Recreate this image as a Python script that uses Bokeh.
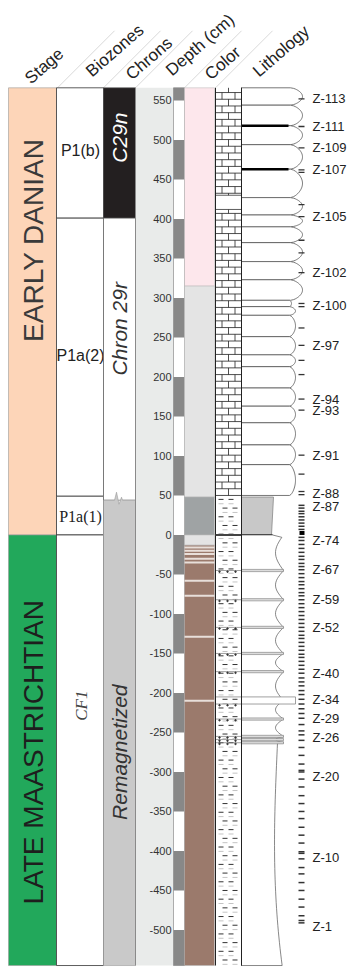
import numpy as np
from bokeh.plotting import figure
from bokeh.models import Range1d
from bokeh.embed import file_html
from bokeh.resources import INLINE
from bokeh.core.properties import value

# ---------------- data ----------------
stage_names = ["EARLY DANIAN", "LATE MAASTRICHTIAN"]
stage_top = [566, 0]
stage_base = [0, -545]
stage_label_y = [373, -275]
stage_colors = ["#fdd5b8", "#22a85b"]

biozone_names = ["P1(b)", "P1a(2)", "P1a(1)", "CF1"]
biozone_top = [566, 401, 49, 0]
biozone_base = [401, 49, 0, -545]
biozone_label_y = [487, 227, 23, -216]

chron_names = ["C29n", "Chron 29r", "Remagnetized"]
chron_top = [566, 401, 44]
chron_base = [401, 44, -545]
chron_label_y = [503, 261, -275]
chron_colors = ["#231f20", "#ffffff", "#c9c9c9"]

depth_ticks = [550, 500, 450, 400, 350, 300, 250, 200, 150, 100, 50, 0,
               -50, -100, -150, -200, -250, -300, -350, -400, -450, -500]
depth_bar_top = [566, 500, 400, 300, 200, 100, 0, -100, -200, -300, -400, -500]
depth_bar_base = [550, 450, 350, 250, 150, 50, -50, -150, -250, -350, -450, -545]

color_top = [566, 315, 48, 0, -13]
color_base = [315, 48, 0, -13, -545]
color_fill = ["#fde7ec", "#e4e4e4", "#9fa3a4", "#e4e4e4", "#9b7a6c"]
color_bands = [-16, -20, -24, -30, -35, -58, -77, -129, -210]

limestone_bounds = [566, 544, 518, 494, 463, 427, 405, 390, 370, 346, 323,
                    297, 289, 278, 251, 228, 213, 186, 163, 142, 114, 89, 50]
dark_bed_tops = [518, 463]
chalk_bed = (412, 430)

marl_top = 48
grey_marl_base = 0
marl_beds = [-45, -82, -117, -150, -173, -233, -255, -259, -263]
sand_bed = (-214, -205)

upper_ticks = [552, 517, 490, 462, 459, 418, 403, 373, 357, 332, 293, 289,
               262, 240, 221, 203, 172, 158, 101, 77, 55, 51]
lower_ticks = [37.5, 34, 30, 27, 23, 19, 15, 11, 7, -3, -7, -12, -17, -22,
               -27, -31, -36, -40, -44, -49, -54, -59, -63, -68, -73, -77,
               -82, -87, -92, -97, -102, -107, -112, -117, -122, -127, -131,
               -136, -141, -146, -151, -155, -160, -165, -170, -175, -181,
               -186, -191, -197, -202, -208, -214, -220, -226, -232, -240,
               -248, -253, -260, -269, -279, -290, -298, -300, -309, -319,
               -330, -340, -350, -359, -370, -380, -390, -401, -403, -410,
               -421, -429, -440, -450, -461, -471, -482, -488, -491]
marker_sample = (0, 5)

sample_labels = ["Z-113", "Z-111", "Z-109", "Z-107", "Z-105", "Z-102", "Z-100",
                 "Z-97", "Z-94", "Z-93", "Z-91", "Z-88", "Z-87", "Z-74", "Z-67",
                 "Z-59", "Z-52", "Z-40", "Z-34", "Z-29", "Z-26", "Z-20", "Z-10",
                 "Z-1"]
sample_label_y = [552, 517, 490, 462, 403, 332, 291, 240, 172, 158, 101, 53,
                  36, -7, -44, -82, -117, -175, -208, -232, -256, -306, -408,
                  -496]

header_names = ["Stage", "Biozones", "Chrons", "Depth (cm)", "Color", "Lithology"]

# ---------------- layout ----------------
W, H = 350, 967
Y_TOP, Y_BOT = 676.5, -547.5
PX = H / (Y_TOP - Y_BOT)          # pixels per cm


def cm(dpx):
    return dpx / PX


def py(ypx):
    return Y_TOP - ypx / PX


X_STAGE = (8, 56)
X_BIO = (56, 103)
X_CHRON = (103, 135)
X_DEPTH = (135, 173)
X_DBAR = (173, 184)
X_COLOR = (184, 214)
X_SYMB = (215, 241)
X_PROF = 241
X_TICK = (298, 304)
X_LABEL = 312
TOP, BASE = 566, -545

SANS = value("Liberation Sans")
SERIF = value("Liberation Serif")

p = figure(width=W, height=H, x_range=Range1d(0, W), y_range=Range1d(Y_BOT, Y_TOP),
           output_backend="svg", toolbar_location=None, min_border=0,
           x_axis_location=None, y_axis_location=None)
p.grid.visible = False
p.outline_line_color = None
p.background_fill_color = "white"
p.border_fill_color = "white"

# ---- column headers ----
hx = [27, 88, 128, 168, 207, 255]
hy = [py(v) for v in [80, 73, 76, 72, 76, 73]]
p.text(x=hx, y=hy, text=header_names, angle=np.radians(41), text_font=SANS,
       text_font_size="17px", text_color="#222", text_baseline="alphabetic",
       text_align="left")
for x0 in [57, 103, 135, 184, 215]:
    p.line([x0, x0 + 57], [TOP, TOP + cm(57)], line_color="#cfcfcf", line_width=0.8)

# ---- stage ----
p.quad(left=X_STAGE[0], right=X_STAGE[1], top=stage_top, bottom=stage_base,
       fill_color=stage_colors, line_color="#9a9a9a", line_width=0.6)
p.text(x=33, y=stage_label_y, text=stage_names, angle=np.pi / 2, text_font=SANS,
       text_font_size="28px", text_color=["#3a3a3a", "#1e1e1e"],
       text_align="center", text_baseline="middle")

# ---- biozones ----
p.quad(left=X_BIO[0], right=X_BIO[1], top=biozone_top, bottom=biozone_base,
       fill_color="white", line_color="#333", line_width=0.8)
p.text(x=80, y=biozone_label_y[:2], text=biozone_names[:2], text_font=SANS,
       text_font_size="16px", text_color="#222", text_align="center",
       text_baseline="middle")
p.text(x=80, y=biozone_label_y[2:3], text=biozone_names[2:3], text_font=SERIF,
       text_font_size="16px", text_color="#222", text_align="center",
       text_baseline="middle")
p.text(x=81, y=biozone_label_y[3:], text=biozone_names[3:], text_font=SERIF,
       text_font_style="italic", angle=np.pi / 2, text_font_size="17px",
       text_color="#444", text_align="center", text_baseline="middle")

# ---- chrons ----
p.quad(left=X_CHRON[0], right=X_CHRON[1], top=chron_top[:2], bottom=chron_base[:2],
       fill_color=chron_colors[:2], line_color="#555", line_width=0.6)
# remagnetized interval with a break symbol on its top
zig_dx = [0, 11, 13, 15.5, 18, 19, 32]
zig_dy = [0, 0, 8, -4, 3, 0, 0]
zx = [X_CHRON[0] + d for d in zig_dx]
zy = [chron_top[2] + cm(d) for d in zig_dy]
p.patch(zx + [X_CHRON[1], X_CHRON[0]], zy + [chron_base[2], chron_base[2]],
        fill_color=chron_colors[2], line_color="#9a9a9a", line_width=0.6)
p.text(x=119, y=chron_label_y, text=chron_names, angle=np.pi / 2, text_font=SANS,
       text_font_style="italic", text_font_size="21px",
       text_color=["white", "#333", "#333"], text_align="center",
       text_baseline="middle")

# ---- depth scale ----
p.quad(left=X_DEPTH[0], right=X_DEPTH[1], top=TOP, bottom=BASE,
       fill_color="#e9ebea", line_color=None)
p.line([X_DEPTH[0], X_DEPTH[0]], [TOP, BASE], line_color="#8a8a8a", line_width=1)
p.quad(left=X_DBAR[0], right=X_DBAR[1], top=TOP, bottom=BASE,
       fill_color="white", line_color="#777", line_width=0.6)
p.quad(left=X_DBAR[0], right=X_DBAR[1], top=depth_bar_top, bottom=depth_bar_base,
       fill_color="#888888", line_color=None)
p.text(x=171, y=depth_ticks, text=[str(v) for v in depth_ticks], text_font=SANS,
       text_font_size="11px", text_color="#333", text_align="right",
       text_baseline="middle")

# ---- colour column ----
p.quad(left=X_COLOR[0], right=X_COLOR[1], top=color_top, bottom=color_base,
       fill_color=color_fill, line_color="#b5b5b5", line_width=0.5)
p.segment(x0=X_COLOR[0], x1=X_COLOR[1], y0=color_bands, y1=color_bands,
          line_color="#e8dfda", line_width=2)

# ---- lithology symbols: limestone bricks ----
row_h = 8.5
rows = np.arange(limestone_bounds[-1], TOP, row_h)
hy0 = []
vx, vy0, vy1 = [], [], []
for k, r in enumerate(rows):
    r1 = min(r + row_h, TOP)
    hy0.append(r)
    xs = [228] if k % 2 == 0 else [221.5, 234.5]
    for xv in xs:
        vx.append(xv)
        vy0.append(r)
        vy1.append(r1)
p.quad(left=X_SYMB[0], right=X_SYMB[1], top=TOP, bottom=limestone_bounds[-1],
       fill_color="white", line_color=None)
p.segment(x0=X_SYMB[0], x1=X_SYMB[1], y0=hy0, y1=hy0, line_color="#222", line_width=0.8)
p.segment(x0=vx, x1=vx, y0=vy0, y1=vy1, line_color="#222", line_width=0.8)
p.quad(left=X_SYMB[0], right=X_SYMB[1], top=chalk_bed[1], bottom=chalk_bed[0],
       fill_color="white", line_color="#333", line_width=0.8)

# ---- lithology symbols: marl dashes ----
mrow = 5.5
dash_x0, dash_x1, dash_y, dash_c = [], [], [], []
for k, r in enumerate(np.arange(marl_top - 3, BASE, -mrow)):
    col = "#333" if k % 2 == 0 else "#c4c4c4"
    segs = [(218, 223), (228, 233)] if (k // 2) % 2 == 0 else [(222, 227), (232, 237)]
    for a, b in segs:
        dash_x0.append(a)
        dash_x1.append(b)
        dash_y.append(r)
        dash_c.append(col)
p.segment(x0=dash_x0, x1=dash_x1, y0=dash_y, y1=dash_y, line_color=dash_c, line_width=1)
bed_lines = marl_beds + [sand_bed[1], sand_bed[0]]
p.segment(x0=X_SYMB[0], x1=X_SYMB[1], y0=bed_lines, y1=bed_lines,
          line_color="#777", line_width=0.7)
dot_x, dot_y = [], []
for b in marl_beds + [sand_bed[0]]:
    for xv in np.arange(219, 241, 8):
        dot_x.append(xv)
        dot_y.append(b - 1.5)
p.scatter(dot_x, dot_y, size=1.5, color="#333")
p.line([X_SYMB[0], X_SYMB[0]], [TOP, BASE], line_color="#222", line_width=1)
p.line([X_SYMB[1], X_SYMB[1]], [TOP, BASE], line_color="#222", line_width=1)

# ---- weathering profile: limestone beds ----
for i in range(len(limestone_bounds) - 1):
    top, base = limestone_bounds[i], limestone_bounds[i + 1]
    thick = top - base
    bx, bulge = (290, 12) if top > 300 else (289, 6)
    if thick < 10:
        bulge = 2
    t = np.linspace(0, 1, 30)
    d = top - t * thick
    xr = bx + bulge * np.sin(np.pi * t) ** 0.6
    p.patch([X_PROF] + list(xr) + [X_PROF], [top] + list(d) + [base],
            fill_color="white", line_color="#555", line_width=0.8)
p.segment(x0=X_PROF, x1=288, y0=dark_bed_tops, y1=dark_bed_tops,
          line_color="black", line_width=2.5)

# ---- weathering profile: grey marl ----
t = np.linspace(0, 1, 20)
gx = 273 - 2 * t
gy = marl_top - t * (marl_top - grey_marl_base)
p.patch([X_PROF] + list(gx) + [X_PROF], [marl_top] + list(gy) + [grey_marl_base],
        fill_color="#c8c8c8", line_color="#888", line_width=0.8)
p.line([X_SYMB[0], 272], [grey_marl_base, grey_marl_base], line_color="#444", line_width=2)

# ---- weathering profile: marls with thin beds ----
levels = [grey_marl_base] + marl_beds[:5] + [sum(sand_bed) / 2] + \
         [marl_beds[5], marl_beds[6], marl_beds[8]]
ex, ey = [], []
for i in range(len(levels) - 1):
    a, b = levels[i], levels[i + 1]
    s = np.linspace(0, 1, 16)
    xs = 275 + (1 - np.sin(np.pi * s)) * 8
    if i == 0:
        xs[0] = 272
    ex += list(xs)
    ey += list(a - s * (a - b))
s = np.linspace(0, 1, 40)
low_top = marl_beds[-1]
ex += list(277 - 4 * np.sin(np.pi * s * 0.8) + 7 * s ** 3)
ey += list(low_top - s * (low_top - BASE))
p.patch([X_PROF] + ex + [X_PROF], [grey_marl_base] + ey + [BASE],
        fill_color="white", line_color="#555", line_width=0.7)
bh = 1.4
p.quad(left=X_PROF, right=283, top=[b + bh for b in marl_beds],
       bottom=[b - bh for b in marl_beds], fill_color="#dcdcdc",
       line_color="#888", line_width=0.7)
p.quad(left=X_PROF, right=295, top=sand_bed[1], bottom=sand_bed[0],
       fill_color="white", line_color="#888", line_width=0.8)
p.line([X_PROF, X_PROF], [TOP, BASE], line_color="#222", line_width=1)

# ---- samples ----
p.segment(x0=X_TICK[0], x1=X_TICK[1], y0=upper_ticks, y1=upper_ticks,
          line_color="#333", line_width=1.3)
p.segment(x0=X_TICK[0], x1=X_TICK[1], y0=lower_ticks, y1=lower_ticks,
          line_color="#333", line_width=1.5)
p.quad(left=X_TICK[0] + 1, right=X_TICK[1], top=marker_sample[1],
       bottom=marker_sample[0], fill_color="black", line_color=None)
p.text(x=X_LABEL, y=sample_label_y, text=sample_labels, text_font=SANS,
       text_font_size="13px", text_color="#222", text_align="left",
       text_baseline="middle")

open("out.html", "w").write(file_html(p, INLINE))
